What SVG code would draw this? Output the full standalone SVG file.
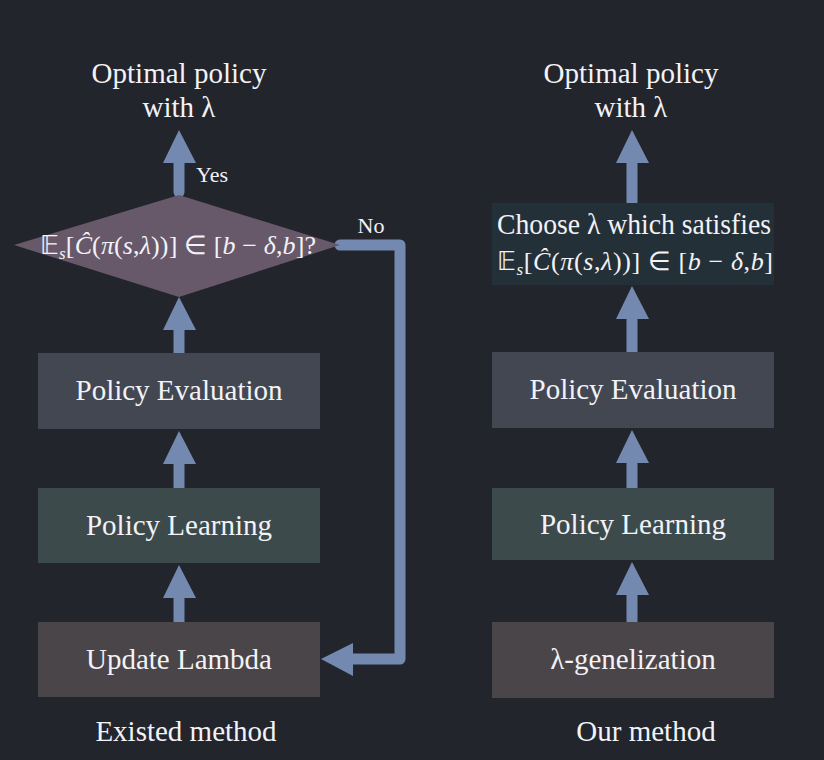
<svg xmlns="http://www.w3.org/2000/svg" width="824" height="760" viewBox="0 0 824 760">
<defs>
<style>
.t{font-family:"Liberation Serif","Times New Roman",serif;fill:#f2f2f7;text-anchor:middle}
.lg{font-size:29px}
.sm{font-size:22px}
.m{font-size:26px}
.i{font-style:italic}
.ar{fill:none;stroke:#7389b0;stroke-width:11;stroke-linecap:round;stroke-linejoin:round}
.hd{fill:#7389b0}
</style>
</defs>
<rect width="824" height="760" fill="#22252c"/>

<g id="connectors">
<line class="ar" x1="179" y1="192" x2="179" y2="160"/>
<polygon class="hd" points="163,163 196,163 179,130"/>
<line class="ar" x1="179" y1="353" x2="179" y2="326"/>
<polygon class="hd" points="163,330 196,330 179,297"/>
<line class="ar" x1="179" y1="488" x2="179" y2="460"/>
<polygon class="hd" points="163,464 196,464 179,431"/>
<line class="ar" x1="179" y1="622" x2="179" y2="594"/>
<polygon class="hd" points="163,598 196,598 179,565"/>
<polyline class="ar" points="340,245 400,245 400,659 350,659"/>
<polygon class="hd" points="353,643 353,676 321,659"/>
<line class="ar" x1="632" y1="203" x2="632" y2="160"/>
<polygon class="hd" points="616,163 649,163 632,130"/>
<line class="ar" x1="632" y1="352" x2="632" y2="316"/>
<polygon class="hd" points="616,319 649,319 632,286"/>
<line class="ar" x1="632" y1="488" x2="632" y2="460"/>
<polygon class="hd" points="616,463 649,463 632,430"/>
<line class="ar" x1="632" y1="622" x2="632" y2="592"/>
<polygon class="hd" points="616,595 649,595 632,562"/>
</g>

<g id="left-title">
<text class="t lg" x="179" y="83">Optimal policy</text>
<text class="t lg" x="179" y="117">with λ</text>
</g>
<g id="yes-label"><text class="t sm" x="212" y="182">Yes</text></g>
<g id="no-label"><text class="t sm" x="371" y="233">No</text></g>

<g id="decision">
<polygon points="14,245 179,195 340,245 179,297" fill="#67596a"/>
<text class="t m" x="178" y="254" textLength="276" lengthAdjust="spacing">𝔼<tspan class="i" font-size="17" dy="5">s</tspan><tspan dy="-5">[</tspan><tspan class="i">Ĉ</tspan>(<tspan class="i">π</tspan>(<tspan class="i">s</tspan>,<tspan class="i">λ</tspan>))] ∈ [<tspan class="i">b</tspan> − <tspan class="i">δ</tspan>,<tspan class="i">b</tspan>]?</text>
</g>

<g id="left-eval">
<rect x="38" y="353" width="282" height="76" fill="#434752"/>
<text class="t lg" x="179" y="400">Policy Evaluation</text>
</g>
<g id="left-learn">
<rect x="38" y="488" width="282" height="75" fill="#3d4a4b"/>
<text class="t lg" x="179" y="535">Policy Learning</text>
</g>
<g id="left-update">
<rect x="38" y="622" width="282" height="75" fill="#4a4548"/>
<text class="t lg" x="179" y="669">Update Lambda</text>
</g>
<g id="left-caption"><text class="t lg" x="186" y="741">Existed method</text></g>

<g id="right-title">
<text class="t lg" x="631" y="83">Optimal policy</text>
<text class="t lg" x="631" y="117">with λ</text>
</g>
<g id="right-choose">
<rect x="492" y="203" width="282" height="82" fill="#243038"/>
<text class="t lg" x="634" y="234" textLength="274" lengthAdjust="spacingAndGlyphs">Choose  λ which satisfies</text>
<text class="t m" x="635" y="270" textLength="276" lengthAdjust="spacing">𝔼<tspan class="i" font-size="17" dy="5">s</tspan><tspan dy="-5">[</tspan><tspan class="i">Ĉ</tspan>(<tspan class="i">π</tspan>(<tspan class="i">s</tspan>,<tspan class="i">λ</tspan>))] ∈ [<tspan class="i">b</tspan> − <tspan class="i">δ</tspan>,<tspan class="i">b</tspan>]</text>
</g>
<g id="right-eval">
<rect x="492" y="352" width="282" height="76" fill="#434752"/>
<text class="t lg" x="633" y="399">Policy Evaluation</text>
</g>
<g id="right-learn">
<rect x="492" y="488" width="282" height="72" fill="#3d4a4b"/>
<text class="t lg" x="633" y="534">Policy Learning</text>
</g>
<g id="right-gen">
<rect x="492" y="622" width="282" height="76" fill="#4a4548"/>
<text class="t lg" x="633" y="669">λ-genelization</text>
</g>
<g id="right-caption"><text class="t lg" x="646" y="741">Our method</text></g>
</svg>
